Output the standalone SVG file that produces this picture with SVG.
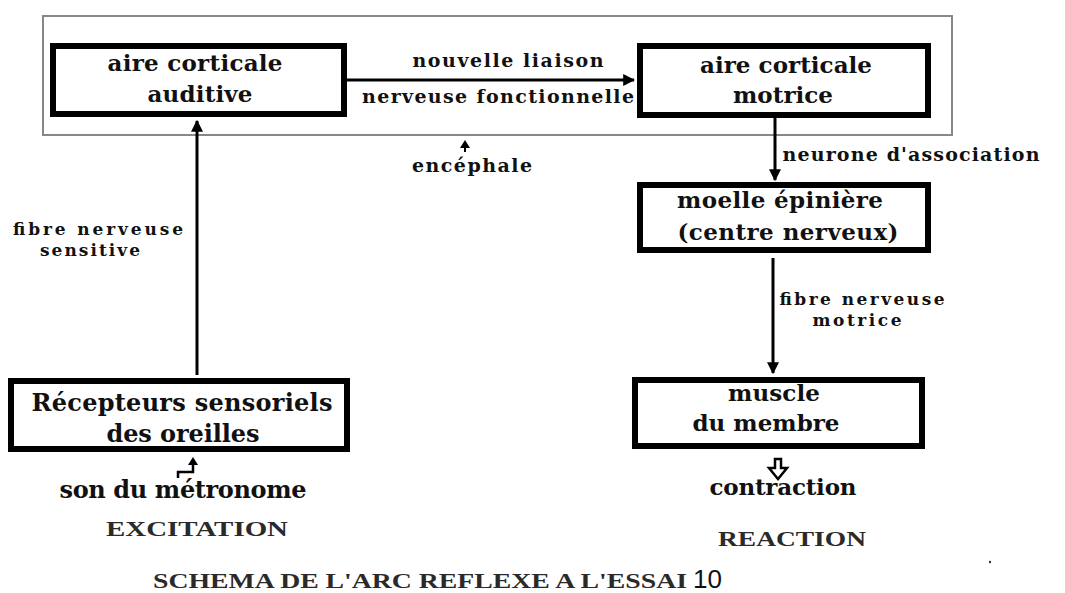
<svg xmlns="http://www.w3.org/2000/svg" width="1065" height="593" viewBox="0 0 1065 593">
<defs>
<style>
.box{fill:#fff;stroke:#000;stroke-width:6}
.bt{font-family:"DejaVu Serif","Liberation Serif",serif;font-weight:bold;font-size:23px;fill:#111;text-anchor:middle}
.lb{font-family:"DejaVu Serif","Liberation Serif",serif;font-weight:bold;font-size:19px;fill:#111;text-anchor:middle}
.sm{font-size:17px}
.cap{font-family:"Liberation Serif",serif;font-weight:bold;font-size:21px;fill:#2a2a2a;text-anchor:middle}
.ln{stroke:#000;stroke-width:3;fill:none}
</style>
<marker id="ah" viewBox="0 0 10 10" refX="9" refY="5" markerWidth="4" markerHeight="4" orient="auto" markerUnits="strokeWidth">
<path d="M0,0 L10,5 L0,10 z" fill="#000"/>
</marker>
</defs>
<rect width="1065" height="593" fill="#fff"/>
<g id="encephale">
<rect x="43" y="16" width="909" height="119" fill="none" stroke="#888" stroke-width="2"/>
<path d="M465,140 L470,148 L460,148 z" fill="#000"/>
<line x1="465" y1="146" x2="465" y2="152" stroke="#000" stroke-width="2"/>
<text class="lb" x="472" y="172" textLength="120" lengthAdjust="spacing">encéphale</text>
</g>
<g id="n-auditive">
<rect class="box" x="53" y="46" width="291" height="68"/>
<text class="bt" x="195" y="71" textLength="175" lengthAdjust="spacing">aire corticale</text>
<text class="bt" x="200" y="102" textLength="105" lengthAdjust="spacing">auditive</text>
</g>
<g id="n-motrice">
<rect class="box" x="640" y="46" width="288" height="69"/>
<text class="bt" x="786" y="73" textLength="172" lengthAdjust="spacing">aire corticale</text>
<text class="bt" x="783" y="103" textLength="100" lengthAdjust="spacing">motrice</text>
</g>
<g id="n-moelle">
<rect class="box" x="640" y="185" width="288" height="65"/>
<text class="bt" x="780" y="208" textLength="206" lengthAdjust="spacing">moelle épinière</text>
<text class="bt" x="788" y="240" textLength="221" lengthAdjust="spacing">(centre nerveux)</text>
</g>
<g id="n-muscle">
<rect class="box" x="635" y="380" width="287" height="66"/>
<text class="bt" x="774" y="401" textLength="92" lengthAdjust="spacing">muscle</text>
<text class="bt" x="766" y="431" textLength="147" lengthAdjust="spacing">du membre</text>
</g>
<g id="n-recepteurs">
<rect class="box" x="11" y="381" width="336" height="68"/>
<text class="bt" x="182" y="411" textLength="301" lengthAdjust="spacing" style="font-size:24px">Récepteurs sensoriels</text>
<text class="bt" x="183" y="442" textLength="153" lengthAdjust="spacing" style="font-size:24px">des oreilles</text>
</g>
<g id="connectors">
<line class="ln" x1="347" y1="80" x2="634" y2="80" marker-end="url(#ah)"/>
<line class="ln" x1="197" y1="375" x2="197" y2="121" marker-end="url(#ah)"/>
<line class="ln" x1="775" y1="118" x2="775" y2="180" marker-end="url(#ah)"/>
<line class="ln" x1="773" y1="258" x2="773" y2="373" marker-end="url(#ah)"/>
<polyline points="178,478 178,472 193,472 193,464" fill="none" stroke="#000" stroke-width="2.5"/>
<path d="M193,457 L198,465 L188,465 z" fill="#000"/>
<path d="M775,459 L781,459 L781,468 L787,468 L778,479 L769,468 L775,468 z" fill="#fff" stroke="#000" stroke-width="2.5" stroke-linejoin="miter"/>
</g>
<g id="labels">
<text class="lb" x="508" y="67" textLength="191" lengthAdjust="spacing">nouvelle liaison</text>
<text class="lb" x="498" y="103" textLength="272" lengthAdjust="spacing">nerveuse fonctionnelle</text>
<text class="lb" x="911" y="161" textLength="257" lengthAdjust="spacing">neurone d'association</text>
<text class="lb sm" x="98" y="235" textLength="170" lengthAdjust="spacing">fibre nerveuse</text>
<text class="lb sm" x="90" y="256" textLength="100" lengthAdjust="spacing">sensitive</text>
<text class="lb sm" x="862" y="305" textLength="165" lengthAdjust="spacing">fibre nerveuse</text>
<text class="lb sm" x="857" y="326" textLength="89" lengthAdjust="spacing">motrice</text>
<text class="bt" x="183" y="498" textLength="247" lengthAdjust="spacing" style="font-size:24px">son du métronome</text>
<text class="bt" x="783" y="495" textLength="147" lengthAdjust="spacing">contraction</text>
<text class="cap" x="197" y="536" textLength="182" lengthAdjust="spacingAndGlyphs">EXCITATION</text>
<text class="cap" x="792" y="546" textLength="148" lengthAdjust="spacingAndGlyphs">REACTION</text>
<text class="cap" x="420" y="588" textLength="534" lengthAdjust="spacingAndGlyphs">SCHEMA DE L'ARC REFLEXE A L'ESSAI</text>
<text x="693" y="588" font-family="Liberation Sans, sans-serif" font-size="26" fill="#111">10</text>
<circle cx="990" cy="562" r="1.2" fill="#333"/>
</g>
</svg>
